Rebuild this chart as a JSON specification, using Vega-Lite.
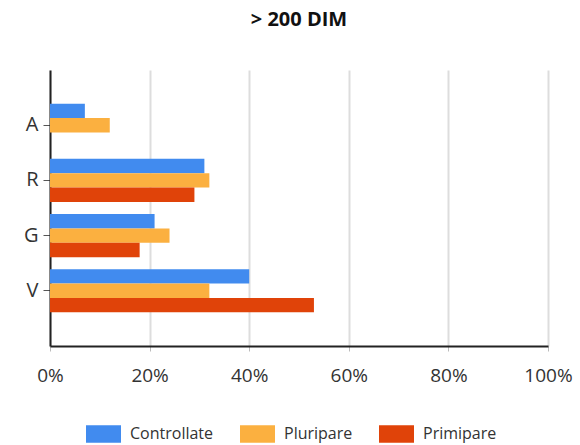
{
  "$schema": "https://vega.github.io/schema/vega-lite/v6.json",
  "autosize": "none",
  "width": 498,
  "height": 276,
  "padding": {"left": 50, "top": 70, "right": 32, "bottom": 99},
  "background": "white",
  "title": {
    "text": "> 200 DIM",
    "font": "Open Sans",
    "fontSize": 20,
    "fontWeight": "bold",
    "color": "#111111",
    "anchor": "middle",
    "offset": 40
  },
  "data": {
    "values": [
      {"cat": "A", "group": "Controllate", "value": 0.07},
      {"cat": "A", "group": "Pluripare", "value": 0.12},
      {"cat": "R", "group": "Controllate", "value": 0.31},
      {"cat": "R", "group": "Pluripare", "value": 0.32},
      {"cat": "R", "group": "Primipare", "value": 0.29},
      {"cat": "G", "group": "Controllate", "value": 0.21},
      {"cat": "G", "group": "Pluripare", "value": 0.24},
      {"cat": "G", "group": "Primipare", "value": 0.18},
      {"cat": "V", "group": "Controllate", "value": 0.40},
      {"cat": "V", "group": "Pluripare", "value": 0.32},
      {"cat": "V", "group": "Primipare", "value": 0.53}
    ]
  },
  "mark": {"type": "bar"},
  "encoding": {
    "y": {
      "field": "cat",
      "type": "nominal",
      "sort": ["A", "R", "G", "V"],
      "scale": {"paddingInner": 0.22, "paddingOuter": 0.61},
      "axis": {
        "title": null,
        "labelFont": "Open Sans",
        "labelFontSize": 20,
        "labelColor": "#333333",
        "labelPadding": 5,
        "tickSize": 7,
        "tickColor": "#555555",
        "tickWidth": 1,
        "domainColor": "#222222",
        "domainWidth": 2,
        "grid": false
      }
    },
    "yOffset": {
      "field": "group",
      "type": "nominal",
      "scale": {"domain": ["Controllate", "Pluripare", "Primipare"], "paddingInner": 0, "paddingOuter": 0}
    },
    "x": {
      "field": "value",
      "type": "quantitative",
      "scale": {"domain": [0, 1], "nice": false},
      "axis": {
        "title": null,
        "values": [0, 0.2, 0.4, 0.6, 0.8, 1],
        "format": ".0%",
        "labelFlush": false,
        "labelFont": "Open Sans",
        "labelFontSize": 19,
        "labelColor": "#333333",
        "labelPadding": 15,
        "tickSize": 5,
        "tickColor": "#bbbbbb",
        "tickWidth": 1,
        "domainColor": "#222222",
        "domainWidth": 2,
        "grid": true,
        "gridColor": "#dddddd",
        "gridWidth": 2
      }
    },
    "color": {
      "field": "group",
      "type": "nominal",
      "scale": {
        "domain": ["Controllate", "Pluripare", "Primipare"],
        "range": ["#418BEF", "#FBB040", "#E04309"]
      },
      "legend": {
        "title": null,
        "orient": "none",
        "legendX": 36,
        "legendY": 346,
        "direction": "horizontal",
        "symbolType": "M-1,-0.5H1V0.5H-1Z",
        "symbolSize": 1225,
        "symbolStrokeWidth": 0,
        "symbolOpacity": 1,
        "labelFont": "Open Sans",
        "labelFontSize": 16,
        "labelColor": "#333333",
        "labelOffset": 9,
        "columnPadding": 26
      }
    }
  },
  "config": {
    "view": {"stroke": null}
  }
}
